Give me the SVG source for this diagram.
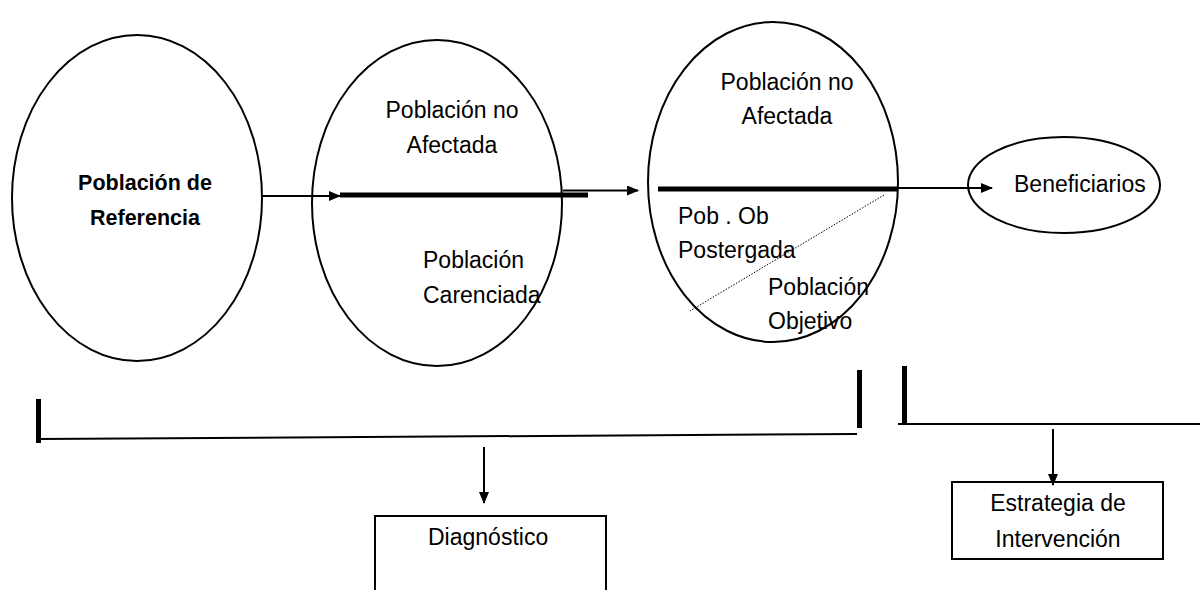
<svg xmlns="http://www.w3.org/2000/svg" width="1200" height="590" viewBox="0 0 1200 590">
<defs>
<marker id="ah" markerUnits="userSpaceOnUse" markerWidth="12" markerHeight="10" refX="11" refY="5" orient="auto">
<path d="M0,0 L12,5 L0,10 Z" fill="#000"/>
</marker>
<style>
.shape{fill:#fff;stroke:#000;stroke-width:2}
.t{font-family:"Liberation Sans",Arial,sans-serif;font-size:23px;fill:#000}
.b{font-weight:bold;font-size:21.5px}
.c{text-anchor:middle}
.ln{stroke:#000;stroke-width:2;fill:none}
.thick{stroke:#000;stroke-width:5;fill:none}
.bar{stroke:#000;stroke-width:5;fill:none}
.arr{stroke:#000;stroke-width:2;fill:none;marker-end:url(#ah)}
</style>
</defs>
<rect width="1200" height="590" fill="#fff"/>
<g id="n-referencia">
<ellipse class="shape" cx="137" cy="198" rx="125" ry="163"/>
<text class="t b c" x="145" y="190">Población de</text>
<text class="t b c" x="145" y="225">Referencia</text>
</g>
<g id="n-carenciada">
<ellipse class="shape" cx="437" cy="203" rx="125" ry="163"/>
<text class="t c" x="452" y="118">Población no</text>
<text class="t c" x="452" y="153">Afectada</text>
<text class="t" x="423" y="268">Población</text>
<text class="t" x="423" y="303">Carenciada</text>
</g>
<g id="n-objetivo">
<ellipse class="shape" cx="773" cy="182" rx="125" ry="160"/>
<text class="t c" x="787" y="90">Población no</text>
<text class="t c" x="787" y="124">Afectada</text>
<text class="t" x="678" y="224">Pob . Ob</text>
<text class="t" x="678" y="258">Postergada</text>
<text class="t" x="768" y="295">Población</text>
<text class="t" x="768" y="329">Objetivo</text>
</g>
<g id="n-beneficiarios">
<ellipse class="shape" cx="1064" cy="185" rx="96" ry="48"/>
<text class="t" x="1014" y="192">Beneficiarios</text>
</g>
<g id="n-diagnostico">
<rect class="shape" x="375" y="516" width="231" height="90"/>
<text class="t" x="428" y="545">Diagnóstico</text>
</g>
<g id="n-estrategia">
<rect class="shape" x="952" y="482" width="211" height="77"/>
<text class="t c" x="1058" y="511">Estrategia de</text>
<text class="t c" x="1058" y="547">Intervención</text>
</g>
<g id="connectors">
<line class="arr" x1="262" y1="196" x2="340" y2="196"/>
<line class="thick" x1="340" y1="195" x2="588" y2="195"/>
<line class="arr" x1="563" y1="190.5" x2="638" y2="190.5"/>
<line class="thick" x1="658" y1="189" x2="898" y2="189"/>
<line class="arr" x1="898" y1="188" x2="992" y2="188"/>
<line x1="884" y1="195" x2="690" y2="311" stroke="#000" stroke-width="1" stroke-dasharray="1.5,1.5"/>
<line class="bar" x1="38.5" y1="399" x2="38.5" y2="443"/>
<line class="ln" x1="38" y1="439" x2="857" y2="434"/>
<line class="bar" x1="859.5" y1="370" x2="859.5" y2="428"/>
<line class="arr" x1="484" y1="447" x2="484" y2="503"/>
<line class="bar" x1="904.5" y1="366" x2="904.5" y2="423"/>
<line class="ln" x1="898" y1="424" x2="1200" y2="424"/>
<line class="arr" x1="1053" y1="429" x2="1053" y2="485"/>
</g>
</svg>
